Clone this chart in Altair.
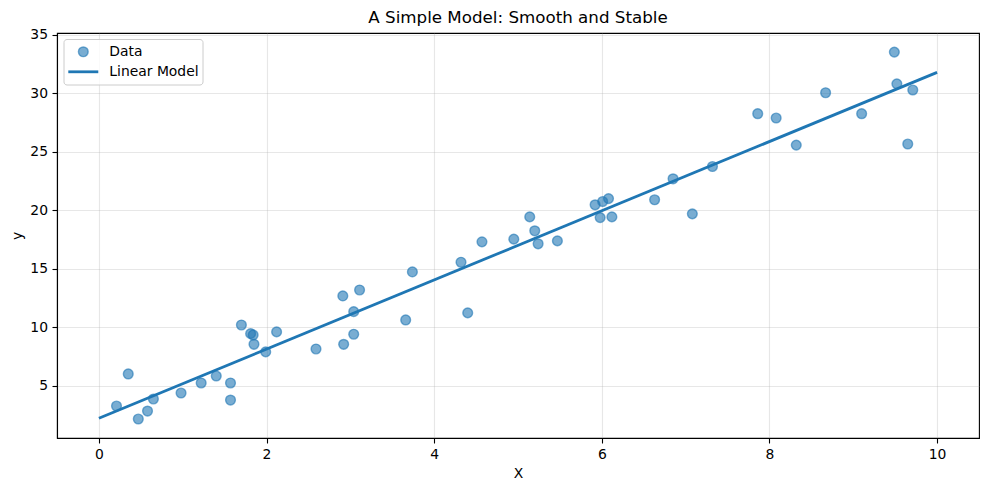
import altair as alt
import pandas as pd

# Scatter data
data_x = [0.21, 0.35, 0.47, 0.58, 0.65, 0.98, 1.22, 1.40, 1.57, 1.57,
          1.70, 1.81, 1.84, 1.85, 1.99, 2.12, 2.59, 2.91, 2.92, 3.04,
          3.04, 3.11, 3.66, 3.74, 4.32, 4.40, 4.57, 4.95, 5.14, 5.20,
          5.24, 5.47, 5.92, 5.98, 6.01, 6.08, 6.12, 6.63, 6.85, 7.08,
          7.32, 7.86, 8.08, 8.32, 8.67, 9.10, 9.49, 9.52, 9.65, 9.71]
data_y = [3.29, 6.03, 2.18, 2.86, 3.89, 4.40, 5.26, 5.85, 5.26, 3.80,
          10.21, 9.47, 9.36, 8.56, 7.91, 9.62, 8.16, 12.69, 8.56, 11.35,
          9.42, 13.20, 10.64, 14.74, 15.57, 11.24, 17.31, 17.54, 19.44, 18.25,
          17.14, 17.39, 20.47, 19.38, 20.75, 21.00, 19.44, 20.90, 22.69, 19.70,
          23.74, 28.25, 27.88, 25.57, 30.04, 28.25, 33.51, 30.80, 25.66, 30.27]

# Linear model endpoints
line_x = [0.0, 10.0]
line_y = [2.24, 31.78]

legend_labels = ["Data", "Linear Model"]

x_ticks = [0, 2, 4, 6, 8, 10]
y_ticks = [5, 10, 15, 20, 25, 30, 35]

BLUE = "#1f77b4"
FONT = "DejaVu Sans"

pts = pd.DataFrame({"X": data_x, "y": data_y})
ln = pd.DataFrame({"X": line_x, "y": line_y})
one = pd.DataFrame({"k": [0]})

xscale = alt.Scale(domain=[-0.5, 10.5], nice=False, zero=False)
yscale = alt.Scale(domain=[0.56, 35.14], nice=False, zero=False)

xaxis = alt.Axis(values=x_ticks, title="X", format="d")
yaxis = alt.Axis(values=y_ticks, title="y", format="d")

points = alt.Chart(pts).mark_point(
    shape="circle", filled=True, size=95, fill=BLUE, fillOpacity=0.6,
    stroke=BLUE, strokeOpacity=0.6, strokeWidth=1.4
).encode(
    x=alt.X("X:Q", scale=xscale, axis=xaxis),
    y=alt.Y("y:Q", scale=yscale, axis=yaxis),
)

line = alt.Chart(ln).mark_line(color=BLUE, strokeWidth=2.8).encode(
    x=alt.X("X:Q", scale=xscale),
    y=alt.Y("y:Q", scale=yscale),
)

# Manual legend (upper left)
leg_box = alt.Chart(one).mark_rect(
    fill="white", fillOpacity=0.8, stroke="#cccccc", strokeWidth=1, cornerRadius=3
).encode(x=alt.value(7), x2=alt.value(146), y=alt.value(6.5), y2=alt.value(52))

leg_pt = alt.Chart(one).mark_point(
    shape="circle", filled=True, size=95, fill=BLUE, fillOpacity=0.6,
    stroke=BLUE, strokeOpacity=0.6, strokeWidth=1.4
).encode(x=alt.value(26.3), y=alt.value(18.8))

leg_line = alt.Chart(one).mark_rule(color=BLUE, strokeWidth=2.8).encode(
    x=alt.value(11.3), x2=alt.value(41.3), y=alt.value(38.8)
)

leg_t1 = alt.Chart(one).mark_text(
    align="left", baseline="middle", font=FONT, fontSize=13.9, color="black",
    text=legend_labels[0]
).encode(x=alt.value(52.3), y=alt.value(18.8))

leg_t2 = alt.Chart(one).mark_text(
    align="left", baseline="middle", font=FONT, fontSize=13.9, color="black",
    text=legend_labels[1]
).encode(x=alt.value(52.3), y=alt.value(39.3))

chart = alt.layer(points, line, leg_box, leg_line, leg_pt, leg_t1, leg_t2).properties(
    width=922,
    height=405,
    title=alt.TitleParams(
        "A Simple Model: Smooth and Stable", font=FONT, fontSize=16.7,
        fontWeight="normal", color="black", anchor="middle", offset=1
    ),
    autosize=alt.AutoSizeParams(type="none"),
    padding={"left": 49, "top": 25, "right": 2, "bottom": 44},
).configure_view(
    stroke="black", strokeWidth=1.1
).configure_axis(
    grid=True, gridColor="#b0b0b0", gridOpacity=0.3, gridWidth=1.1,
    domainColor="black", domainWidth=1.1,
    tickColor="black", tickSize=5, tickWidth=1.1,
    labelFont=FONT, labelFontSize=13.9, labelColor="black", labelPadding=4.5,
    titleFont=FONT, titleFontSize=13.9, titleFontWeight="normal", titleColor="black",
    titlePadding=5,
).configure_axisX(
    labelAngle=0
)

chart.save("out.html", embed_options={"renderer": "svg", "actions": False})
